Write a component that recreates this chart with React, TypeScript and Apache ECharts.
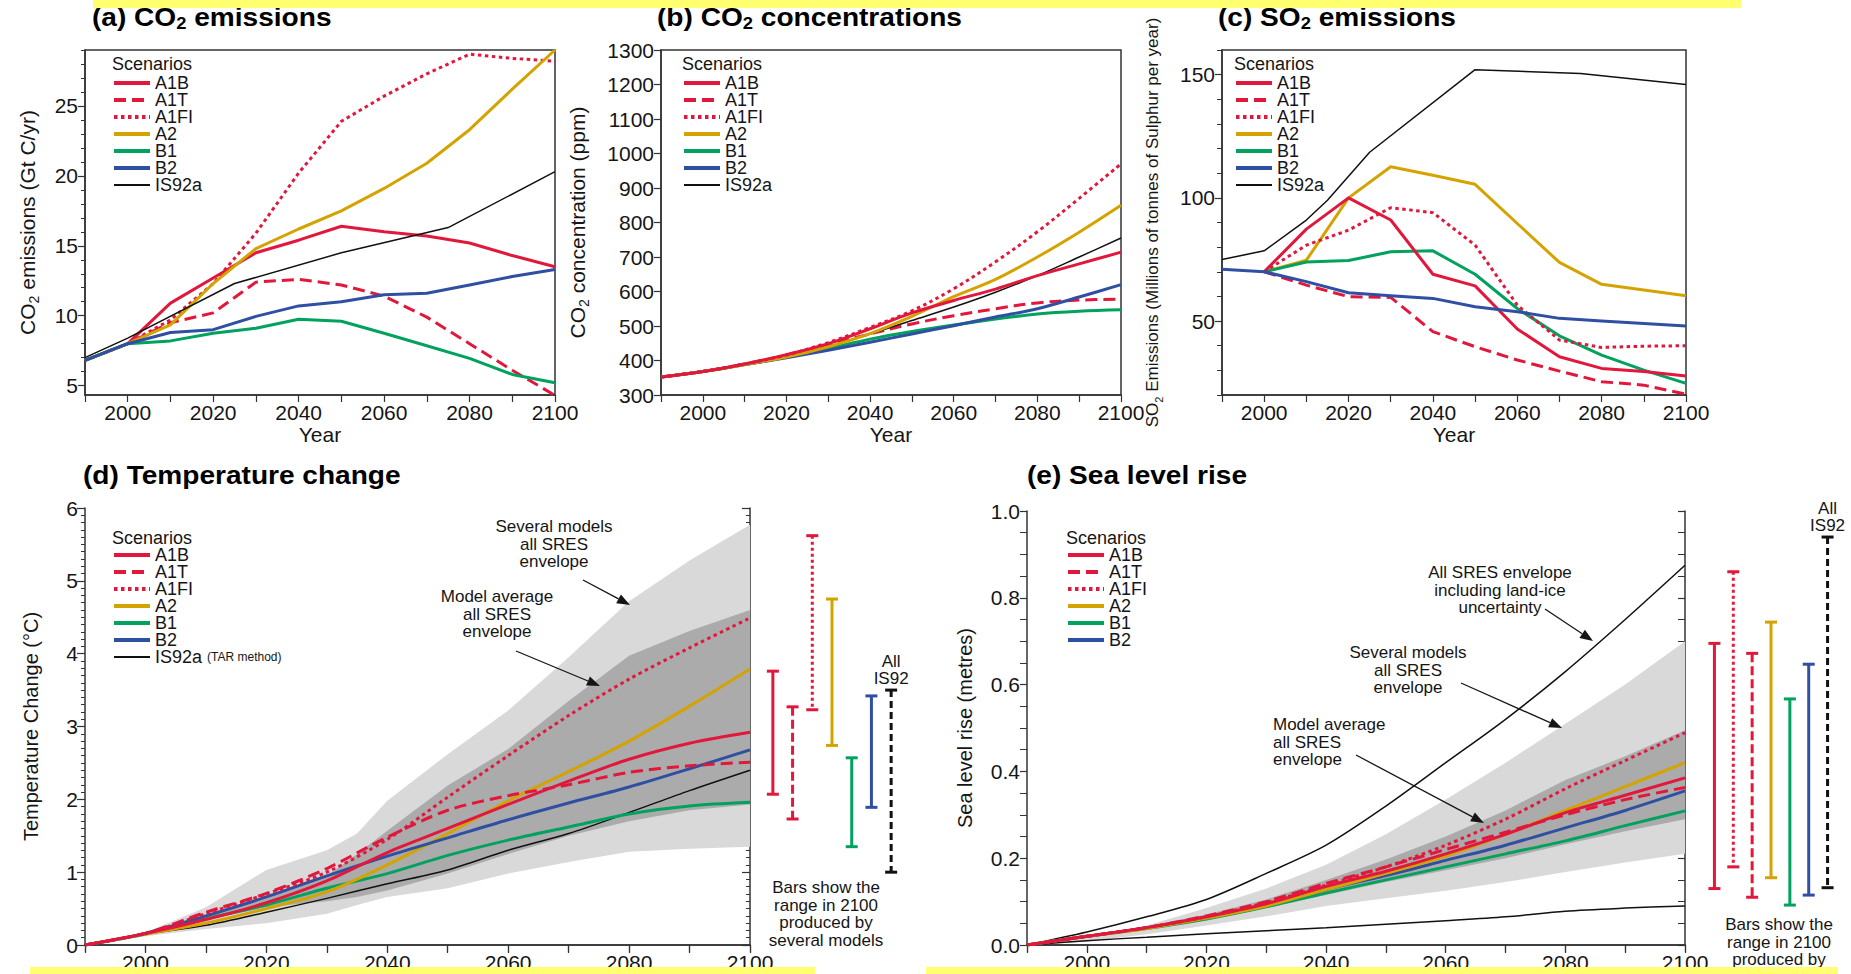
import React, { useEffect, useRef } from 'react';
import * as echarts from 'echarts';

const FONT = '"Liberation Sans", Arial, Helvetica, sans-serif';
const TXT = '#151515';
const AX = '#333333';

const RED = '#E2173C';
const GOLD = '#D4A300';
const GREEN = '#00A25E';
const BLUE = '#2F4FA2';
const BLACK = '#111111';
const LIGHT = '#D9D9D9';
const DARK = '#ABABAB';

// ---------- shared ----------
const YEARS = [1990, 2000, 2010, 2020, 2030, 2040, 2050, 2060, 2070, 2080, 2090, 2100];
const SCENARIOS = ['A1B', 'A1T', 'A1FI', 'A2', 'B1', 'B2', 'IS92a'];
const SCENARIOS_E = ['A1B', 'A1T', 'A1FI', 'A2', 'B1', 'B2'];

// ---------- (a) CO2 emissions (Gt C/yr) ----------
const CO2E_A1B = [6.8, 8.0, 10.9, 12.7, 14.5, 15.4, 16.4, 16.0, 15.7, 15.2, 14.3, 13.5];
const CO2E_A1T = [6.8, 8.0, 9.5, 10.2, 12.4, 12.6, 12.2, 11.4, 9.9, 8.0, 6.1, 4.3];
const CO2E_A1FI = [6.8, 8.0, 9.7, 12.3, 15.9, 20.2, 23.9, 25.7, 27.3, 28.7, 28.4, 28.2];
const CO2E_A2 = [6.8, 8.0, 9.35, 12.3, 14.8, 16.2, 17.5, 19.1, 20.9, 23.3, 26.2, 29.0];
const CO2E_B1 = [6.8, 8.0, 8.2, 8.75, 9.1, 9.75, 9.6, 8.75, 7.85, 6.95, 5.8, 5.2];
const CO2E_B2 = [6.8, 8.0, 8.8, 9.0, 9.95, 10.7, 11.0, 11.5, 11.6, 12.2, 12.8, 13.3];
const IS92A_YEARS_A = [1990, 2000, 2025, 2050, 2075, 2100];
const CO2E_IS92A = [7.0, 8.4, 12.3, 14.5, 16.3, 20.3];
const CO2E_TICKS = [5, 10, 15, 20, 25];
const CO2E_MINOR = [5, 6, 7, 8, 9, 10, 11, 12, 13, 14, 15, 16, 17, 18, 19, 20, 21, 22, 23, 24, 25, 26, 27, 28, 29];

// ---------- (b) CO2 concentrations (ppm) ----------
const CO2C_A1B = [352, 368, 390, 417, 449, 492, 538, 574, 607, 646, 680, 714];
const CO2C_A1T = [352, 368, 390, 415, 446, 477, 506, 530, 550, 567, 575, 578];
const CO2C_A1FI = [352, 368, 390, 416, 452, 496, 544, 608, 686, 773, 870, 970];
const CO2C_A2 = [352, 368, 388, 410, 440, 478, 528, 585, 635, 700, 772, 850];
const CO2C_B1 = [352, 368, 388, 410, 435, 462, 484, 503, 520, 535, 543, 547];
const CO2C_B2 = [352, 368, 388, 408, 430, 453, 477, 501, 526, 550, 584, 620];
const CO2C_IS92A = [352, 368, 388, 410, 440, 477, 516, 555, 598, 646, 700, 755];

// ---------- (c) SO2 emissions (Mt S/yr) ----------
const SO2_A1B = [null, 70, 87.3, 100, 91, 69, 64.3, 46.8, 35.5, 30.8, 29.5, 27.7];
const SO2_A1T = [null, 70, 64.6, 59.9, 59.6, 45.7, 39.6, 34.2, 29.7, 25.4, 24, 20.3];
const SO2_A1FI = [null, 70, 80.8, 86.9, 96, 94, 80.8, 56.5, 42.3, 39.3, 39.8, 40];
const SO2_A2 = [null, 70, 74.7, 100, 112.6, 109.2, 105.5, 89.6, 73.8, 64.9, 62.6, 60.3];
const SO2_B1 = [null, 70, 74, 74.6, 78.1, 78.5, 69, 55.1, 44, 36.2, 30.1, 24.7];
const SO2_B2 = [71, 70, 66, 61.5, 60.3, 59.2, 55.8, 53.8, 51.1, 50, 49, 48];
const IS92A_YEARS_C = [1990, 2000, 2010, 2015, 2025, 2050, 2075, 2100];
const SO2_IS92A = [75, 78.5, 91, 99, 118.5, 152, 150.5, 146];
const SO2_TICKS = [50, 100, 150];

// ---------- (d) Temperature change (°C) ----------
const T_A1B = [0, 0.16, 0.35, 0.58, 0.88, 1.27, 1.6, 1.93, 2.25, 2.55, 2.77, 2.92];
const T_A1T = [0, 0.16, 0.45, 0.71, 1.05, 1.48, 1.85, 2.05, 2.2, 2.37, 2.46, 2.51];
const T_A1FI = [0, 0.16, 0.43, 0.7, 1.0, 1.45, 2.03, 2.6, 3.15, 3.65, 4.08, 4.49];
const T_A2 = [0, 0.15, 0.3, 0.5, 0.73, 1.1, 1.53, 1.98, 2.38, 2.8, 3.28, 3.79];
const T_B1 = [0, 0.15, 0.36, 0.55, 0.78, 0.98, 1.23, 1.44, 1.62, 1.8, 1.91, 1.96];
const T_B2 = [0, 0.16, 0.4, 0.66, 0.95, 1.22, 1.47, 1.72, 1.95, 2.17, 2.42, 2.68];
const T_IS92A = [0, 0.15, 0.27, 0.45, 0.64, 0.84, 1.03, 1.3, 1.53, 1.82, 2.12, 2.4];
const ENV_YEARS_D = [1990, 2000, 2010, 2020, 2030, 2035, 2040, 2050, 2060, 2070, 2080, 2090, 2100];
const T_LIGHT_HI = [0, 0.17, 0.52, 1.03, 1.3, 1.53, 1.98, 2.62, 3.22, 3.95, 4.72, 5.28, 5.77];
const T_LIGHT_LO = [0, 0.12, 0.22, 0.3, 0.43, 0.55, 0.66, 0.78, 0.98, 1.14, 1.28, 1.32, 1.35];
const T_DARK_HI = [0, 0.16, 0.4, 0.66, 0.95, 1.25, 1.57, 2.19, 2.69, 3.35, 3.97, 4.31, 4.6];
const T_DARK_LO = [0, 0.15, 0.34, 0.52, 0.6, 0.66, 0.75, 0.98, 1.25, 1.5, 1.7, 1.85, 1.93];
const BAR_NAMES_D = ['A1B', 'A1T', 'A1FI', 'A2', 'B1', 'B2', 'IS92'];
const BAR_LOW_D = [2.07, 1.73, 3.23, 2.74, 1.35, 1.89, 1.0];
const BAR_HIGH_D = [3.76, 3.27, 5.62, 4.75, 2.57, 3.42, 3.5];

// ---------- (e) Sea level rise (metres) ----------
const SL_A1B = [0, 0.02, 0.04, 0.065, 0.095, 0.135, 0.17, 0.21, 0.255, 0.305, 0.345, 0.385];
const SL_A1T = [0, 0.02, 0.04, 0.067, 0.1, 0.142, 0.18, 0.22, 0.26, 0.3, 0.335, 0.363];
const SL_A1FI = [0, 0.02, 0.04, 0.065, 0.098, 0.138, 0.18, 0.23, 0.29, 0.36, 0.425, 0.489];
const SL_A2 = [0, 0.02, 0.038, 0.062, 0.09, 0.128, 0.165, 0.205, 0.255, 0.31, 0.365, 0.42];
const SL_B1 = [0, 0.02, 0.038, 0.06, 0.088, 0.12, 0.15, 0.18, 0.21, 0.24, 0.275, 0.309];
const SL_B2 = [0, 0.02, 0.04, 0.063, 0.092, 0.128, 0.16, 0.195, 0.23, 0.27, 0.31, 0.355];
const SL_ICE_HI = [0, 0.03, 0.065, 0.105, 0.165, 0.23, 0.32, 0.42, 0.52, 0.63, 0.75, 0.875];
const SL_ICE_LO = [0, 0.01, 0.018, 0.026, 0.033, 0.04, 0.048, 0.056, 0.065, 0.078, 0.085, 0.09];
const SL_LIGHT_HI = [0, 0.02, 0.045, 0.085, 0.13, 0.185, 0.255, 0.335, 0.42, 0.51, 0.6, 0.7];
const SL_LIGHT_LO = [0, 0.008, 0.025, 0.045, 0.066, 0.09, 0.108, 0.125, 0.145, 0.168, 0.19, 0.21];
const SL_DARK_HI = [0, 0.022, 0.043, 0.07, 0.105, 0.15, 0.197, 0.25, 0.31, 0.38, 0.435, 0.495];
const SL_DARK_LO = [0, 0.018, 0.036, 0.058, 0.085, 0.115, 0.145, 0.172, 0.2, 0.232, 0.262, 0.29];
const BAR_NAMES_E = ['A1B', 'A1FI', 'A1T', 'A2', 'B1', 'B2', 'IS92'];
const BAR_LOW_E = [0.13, 0.18, 0.11, 0.155, 0.092, 0.115, 0.132];
const BAR_HIGH_E = [0.695, 0.86, 0.672, 0.744, 0.567, 0.647, 0.94];

// ---------- styles ----------
const DASH = [12, 6];
const DOT = [3.5, 3.5];
const STYLE: Record<string, { color: string; width: number; type: any }> = {
  A1B: { color: RED, width: 3, type: 'solid' },
  A1T: { color: RED, width: 3, type: DASH },
  A1FI: { color: RED, width: 3, type: DOT },
  A2: { color: GOLD, width: 3, type: 'solid' },
  B1: { color: GREEN, width: 3, type: 'solid' },
  B2: { color: BLUE, width: 3, type: 'solid' },
  IS92a: { color: BLACK, width: 1.5, type: 'solid' },
};
const BAR_STYLE: Record<string, { color: string; dash: number[] | null }> = {
  A1B: { color: RED, dash: null },
  A1T: { color: RED, dash: [9, 4] },
  A1FI: { color: RED, dash: [3, 3] },
  A2: { color: GOLD, dash: null },
  B1: { color: GREEN, dash: null },
  B2: { color: BLUE, dash: null },
  IS92: { color: BLACK, dash: [7, 4] },
};

const pairs = (xs: number[], ys: (number | null)[]) => xs.map((x, i) => [x, ys[i]]);

function scen(name: string, xs: number[], ys: (number | null)[], xi: number, yi: number, smooth: number | boolean) {
  const st = STYLE[name];
  return {
    type: 'line',
    name,
    xAxisIndex: xi,
    yAxisIndex: yi,
    data: pairs(xs, ys),
    symbol: 'none',
    smooth,
    z: 4,
    silent: true,
    lineStyle: { color: st.color, width: st.width, type: st.type, cap: 'butt', join: 'round' },
    itemStyle: { color: st.color },
  };
}

// filled envelope between two boundaries, drawn through the axes' scales
function band(xs: number[], lo: number[], hi: number[], xi: number, yi: number, color: string, z: number) {
  return {
    type: 'custom',
    xAxisIndex: xi,
    yAxisIndex: yi,
    silent: true,
    z,
    data: [[xs[0], lo[0], hi[0]]],
    renderItem: (_params: any, api: any) => {
      const pts: number[][] = [];
      for (let i = 0; i < xs.length; i++) pts.push(api.coord([xs[i], hi[i]]));
      for (let i = xs.length - 1; i >= 0; i--) pts.push(api.coord([xs[i], lo[i]]));
      return { type: 'polygon', shape: { points: pts }, style: { fill: color, stroke: null } };
    },
  };
}

function bars(xi: number, yi: number, names: string[], lows: number[], highs: number[]) {
  return {
    type: 'custom',
    xAxisIndex: xi,
    yAxisIndex: yi,
    silent: true,
    z: 4,
    data: lows.map((lo, i) => [i, lo, highs[i]]),
    renderItem: (params: any, api: any) => {
      const i = params.dataIndex;
      const top = api.coord([api.value(0), api.value(2)]);
      const bot = api.coord([api.value(0), api.value(1)]);
      const x = top[0];
      const st = BAR_STYLE[names[i]];
      const children: any[] = [
        { type: 'line', shape: { x1: x, y1: top[1], x2: x, y2: bot[1] }, style: { stroke: st.color, lineWidth: 3, lineDash: st.dash } },
        { type: 'line', shape: { x1: x - 6, y1: top[1], x2: x + 6, y2: top[1] }, style: { stroke: st.color, lineWidth: 3 } },
        { type: 'line', shape: { x1: x - 6, y1: bot[1], x2: x + 6, y2: bot[1] }, style: { stroke: st.color, lineWidth: 3 } },
      ];
      if (names[i] === 'IS92') {
        children.push({
          type: 'text',
          style: { text: 'All\nIS92', x, y: top[1] - 3, align: 'center', verticalAlign: 'bottom', fill: TXT, fontSize: 17, fontFamily: FONT, lineHeight: 17 },
        });
      }
      return { type: 'group', children };
    },
  };
}

const yearLabel = (v: number) => (v % 20 === 0 ? String(v) : '');
const LABEL = { fontSize: 21, fontFamily: FONT, color: TXT, margin: 7 };
const LINE = { lineStyle: { color: AX, width: 1.5 } };
const TICK = { length: 7, lineStyle: { color: AX, width: 1.2 } };

function xAxisFor(gridIndex: number, withName: boolean) {
  return {
    type: 'value', gridIndex, min: 1990, max: 2100, interval: 10,
    splitLine: { show: false }, axisLine: LINE, axisTick: TICK,
    axisLabel: { ...LABEL, formatter: yearLabel },
    name: withName ? 'Year' : '', nameLocation: 'middle', nameGap: 28,
    nameTextStyle: { fontSize: 21, fontFamily: FONT, color: TXT },
  };
}
function xTopFor(gridIndex: number) {
  return {
    type: 'value', gridIndex, position: 'top', min: 1990, max: 2100, interval: 10,
    splitLine: { show: false }, axisLine: LINE, axisTick: { ...TICK, inside: true, length: 8 },
    axisLabel: { show: false },
  };
}
function subName(size: number) {
  return {
    fontSize: size, fontFamily: FONT, color: TXT, lineHeight: size + 6,
    rich: { s: { fontSize: Math.round(size * 0.65), fontFamily: FONT, color: TXT, verticalAlign: 'bottom', lineHeight: Math.round(size * 0.65) } },
  };
}

function legendFor(left: number, top: number, names: string[], tar: boolean) {
  return {
    show: true, orient: 'vertical', left, top, padding: 0, itemGap: -1,
    itemWidth: 36, itemHeight: 12, selectedMode: false,
    data: names.map((n) => ({ name: n, lineStyle: { width: n === 'IS92a' ? 2 : 4 } })),
    itemStyle: { opacity: 0 },
    textStyle: {
      fontFamily: FONT, fontSize: 18, color: TXT, lineHeight: 17,
      rich: { t: { fontFamily: FONT, fontSize: 12, color: TXT } },
    },
    formatter: tar ? (n: string) => (n === 'IS92a' ? 'IS92a {t|(TAR method)}' : n) : (n: string) => n,
  };
}

function arrow(x1: number, y1: number, x2: number, y2: number) {
  const a = Math.atan2(y2 - y1, x2 - x1);
  const L = 13;
  const W = 5;
  const bx = x2 - L * Math.cos(a);
  const by = y2 - L * Math.sin(a);
  const px = -Math.sin(a) * W;
  const py = Math.cos(a) * W;
  return {
    type: 'group',
    z: 50,
    children: [
      { type: 'line', z: 50, shape: { x1, y1, x2: bx, y2: by }, style: { stroke: TXT, lineWidth: 1.3 } },
      { type: 'polygon', z: 50, shape: { points: [[x2, y2], [bx + px, by + py], [bx - px, by - py]] }, style: { fill: TXT } },
    ],
  };
}
function note(x: number, y: number, text: string, align: string = 'center') {
  return {
    type: 'text', x, y, z: 50,
    style: { text, fill: TXT, fontSize: 17, fontFamily: FONT, align, verticalAlign: 'top', lineHeight: 17.5 },
  };
}
function title(x: number, y: number, text: string) {
  return {
    type: 'text', x, y, scaleX: 1.08, z: 50,
    style: {
      text, fill: '#000', verticalAlign: 'middle', align: 'left',
      rich: {
        b: { fontSize: 26, fontWeight: 'bold', fontFamily: FONT, fill: '#000', lineHeight: 30 },
        s: { fontSize: 17, fontWeight: 'bold', fontFamily: FONT, fill: '#000', verticalAlign: 'bottom', lineHeight: 17 },
      },
    },
  };
}

function buildOption() {
  const grid = [
    { left: 85, top: 50, width: 470, height: 345, show: true, borderColor: AX, borderWidth: 1.5 },
    { left: 661, top: 50, width: 460, height: 345, show: true, borderColor: AX, borderWidth: 1.5 },
    { left: 1222, top: 50, width: 464, height: 345, show: true, borderColor: AX, borderWidth: 1.5 },
    { left: 85, top: 508, width: 665, height: 437 },
    { left: 763, top: 508, width: 138, height: 437 },
    { left: 1027, top: 511, width: 658, height: 434 },
    { left: 1705, top: 511, width: 132, height: 434 },
  ];

  const xAxis = [
    xAxisFor(0, true),
    xAxisFor(1, true),
    xAxisFor(2, true),
    xAxisFor(3, false),
    xTopFor(3),
    { type: 'category', gridIndex: 4, data: BAR_NAMES_D, show: false },
    xAxisFor(5, false),
    xTopFor(5),
    { type: 'category', gridIndex: 6, data: BAR_NAMES_E, show: false },
  ];

  const yAxis = [
    {
      type: 'value', gridIndex: 0, position: 'left', min: 4.33, max: 29,
      splitLine: { show: false }, axisLine: LINE,
      axisTick: { ...TICK, customValues: CO2E_TICKS },
      axisLabel: { ...LABEL, customValues: CO2E_TICKS },
      name: 'CO{s|2} emissions (Gt C/yr)', nameLocation: 'middle', nameRotate: 90, nameGap: 44,
      nameTextStyle: subName(21),
    },
    {
      type: 'value', gridIndex: 0, position: 'left', min: 4.33, max: 29,
      splitLine: { show: false }, axisLine: { show: false },
      axisTick: { length: 4, lineStyle: { color: AX, width: 1 }, customValues: CO2E_MINOR },
      axisLabel: { show: false, customValues: CO2E_MINOR },
    },
    {
      type: 'value', gridIndex: 1, position: 'left', min: 300, max: 1300, interval: 100,
      splitLine: { show: false }, axisLine: LINE, axisTick: TICK,
      axisLabel: { ...LABEL, formatter: (v: number) => String(v) },
      name: 'CO{s|2} concentration (ppm)', nameLocation: 'middle', nameRotate: 90, nameGap: 70,
      nameTextStyle: subName(21),
    },
    {
      type: 'value', gridIndex: 2, position: 'left', min: 20, max: 160,
      splitLine: { show: false }, axisLine: LINE,
      axisTick: { ...TICK, customValues: SO2_TICKS },
      axisLabel: { ...LABEL, customValues: SO2_TICKS },
      name: 'SO{s|2} Emissions (Millions of tonnes of Sulphur per year)', nameLocation: 'middle', nameRotate: 90, nameGap: 58,
      nameTextStyle: subName(17),
    },
    {
      type: 'value', gridIndex: 2, position: 'left', min: 20, max: 160, interval: 10,
      splitLine: { show: false }, axisLine: { show: false },
      axisTick: { length: 5, lineStyle: { color: AX, width: 1 } }, axisLabel: { show: false },
    },
    {
      type: 'value', gridIndex: 3, position: 'left', min: 0, max: 6, interval: 1,
      splitLine: { show: false }, axisLine: LINE, axisTick: { ...TICK, length: 8 }, axisLabel: LABEL,
      minorTick: { show: true, splitNumber: 10, length: 4, lineStyle: { color: AX, width: 1 } },
      minorSplitLine: { show: false },
      name: 'Temperature Change (°C)', nameLocation: 'middle', nameRotate: 90, nameGap: 44,
      nameTextStyle: { fontSize: 20, fontFamily: FONT, color: TXT },
    },
    {
      type: 'value', gridIndex: 3, position: 'right', min: 0, max: 6, interval: 1,
      splitLine: { show: false }, axisLine: LINE, axisTick: { ...TICK, inside: true, length: 8 },
      axisLabel: { show: false },
      minorTick: { show: true, splitNumber: 10, length: 4, lineStyle: { color: AX, width: 1 } },
    },
    { type: 'value', gridIndex: 4, min: 0, max: 6, show: false },
    {
      type: 'value', gridIndex: 5, position: 'left', min: 0, max: 1, interval: 0.2,
      splitLine: { show: false }, axisLine: LINE, axisTick: { ...TICK, length: 7 },
      axisLabel: { ...LABEL, formatter: (v: number) => v.toFixed(1) },
      minorTick: { show: true, splitNumber: 4, length: 7, lineStyle: { color: AX, width: 1 } },
      name: 'Sea level rise (metres)', nameLocation: 'middle', nameRotate: 90, nameGap: 52,
      nameTextStyle: { fontSize: 20, fontFamily: FONT, color: TXT },
    },
    {
      type: 'value', gridIndex: 5, position: 'right', min: 0, max: 1, interval: 0.2,
      splitLine: { show: false }, axisLine: LINE, axisTick: { ...TICK, inside: true, length: 7 },
      axisLabel: { show: false },
      minorTick: { show: true, splitNumber: 4, length: 7, lineStyle: { color: AX, width: 1 } },
    },
    { type: 'value', gridIndex: 6, min: 0, max: 1, show: false },
  ];

  const series: any[] = [
    // (a)
    scen('A1B', YEARS, CO2E_A1B, 0, 0, false),
    scen('A1T', YEARS, CO2E_A1T, 0, 0, false),
    scen('A1FI', YEARS, CO2E_A1FI, 0, 0, false),
    scen('A2', YEARS, CO2E_A2, 0, 0, false),
    scen('B1', YEARS, CO2E_B1, 0, 0, false),
    scen('B2', YEARS, CO2E_B2, 0, 0, false),
    scen('IS92a', IS92A_YEARS_A, CO2E_IS92A, 0, 0, false),
    // (b)
    scen('A1T', YEARS, CO2C_A1T, 1, 2, 0.35),
    scen('B1', YEARS, CO2C_B1, 1, 2, 0.35),
    scen('B2', YEARS, CO2C_B2, 1, 2, 0.35),
    scen('IS92a', YEARS, CO2C_IS92A, 1, 2, 0.35),
    scen('A2', YEARS, CO2C_A2, 1, 2, 0.35),
    scen('A1FI', YEARS, CO2C_A1FI, 1, 2, 0.35),
    scen('A1B', YEARS, CO2C_A1B, 1, 2, 0.35),
    // (c)
    scen('IS92a', IS92A_YEARS_C, SO2_IS92A, 2, 3, false),
    scen('A2', YEARS, SO2_A2, 2, 3, false),
    scen('B1', YEARS, SO2_B1, 2, 3, false),
    scen('A1FI', YEARS, SO2_A1FI, 2, 3, false),
    scen('A1T', YEARS, SO2_A1T, 2, 3, false),
    scen('A1B', YEARS, SO2_A1B, 2, 3, false),
    scen('B2', YEARS, SO2_B2, 2, 3, false),
    // (d)
    band(ENV_YEARS_D, T_LIGHT_LO, T_LIGHT_HI, 3, 5, LIGHT, 1),
    band(ENV_YEARS_D, T_DARK_LO, T_DARK_HI, 3, 5, DARK, 2),
    scen('IS92a', YEARS, T_IS92A, 3, 5, 0.3),
    scen('B1', YEARS, T_B1, 3, 5, 0.3),
    scen('A2', YEARS, T_A2, 3, 5, 0.3),
    scen('B2', YEARS, T_B2, 3, 5, 0.3),
    scen('A1B', YEARS, T_A1B, 3, 5, 0.3),
    scen('A1T', YEARS, T_A1T, 3, 5, 0.3),
    scen('A1FI', YEARS, T_A1FI, 3, 5, 0.3),
    bars(5, 7, BAR_NAMES_D, BAR_LOW_D, BAR_HIGH_D),
    // (e)
    band(YEARS, SL_LIGHT_LO, SL_LIGHT_HI, 6, 8, LIGHT, 1),
    band(YEARS, SL_DARK_LO, SL_DARK_HI, 6, 8, DARK, 2),
    {
      type: 'line', xAxisIndex: 6, yAxisIndex: 8, data: pairs(YEARS, SL_ICE_HI), symbol: 'none', smooth: 0.3, silent: true, z: 3,
      lineStyle: { color: BLACK, width: 1.5 },
    },
    {
      type: 'line', xAxisIndex: 6, yAxisIndex: 8, data: pairs(YEARS, SL_ICE_LO), symbol: 'none', smooth: 0.3, silent: true, z: 3,
      lineStyle: { color: BLACK, width: 1.5 },
    },
    scen('B1', YEARS, SL_B1, 6, 8, 0.3),
    scen('B2', YEARS, SL_B2, 6, 8, 0.3),
    scen('A2', YEARS, SL_A2, 6, 8, 0.3),
    scen('A1T', YEARS, SL_A1T, 6, 8, 0.3),
    scen('A1B', YEARS, SL_A1B, 6, 8, 0.3),
    scen('A1FI', YEARS, SL_A1FI, 6, 8, 0.3),
    bars(8, 10, BAR_NAMES_E, BAR_LOW_E, BAR_HIGH_E),
  ];

  const legend = [
    legendFor(112, 74, SCENARIOS, false),
    legendFor(682, 74, SCENARIOS, false),
    legendFor(1234, 74, SCENARIOS, false),
    legendFor(112, 546, SCENARIOS, true),
    legendFor(1066, 546, SCENARIOS_E, false),
  ];

  const scenLabel = (x: number, y: number) => ({
    type: 'text', x, y, z: 50, style: { text: 'Scenarios', fill: TXT, fontSize: 18, fontFamily: FONT, verticalAlign: 'middle' },
  });

  const graphic = [
    title(92, 17, '{b|(a) CO}{s|2}{b| emissions}'),
    title(657, 17, '{b|(b) CO}{s|2}{b| concentrations}'),
    title(1218, 17, '{b|(c) SO}{s|2}{b| emissions}'),
    title(83, 475, '{b|(d) Temperature change}'),
    title(1027, 475, '{b|(e) Sea level rise}'),
    scenLabel(112, 64),
    scenLabel(682, 64),
    scenLabel(1234, 64),
    scenLabel(112, 538),
    scenLabel(1066, 538),
    note(554, 518, 'Several models\nall SRES\nenvelope'),
    arrow(583, 580, 630, 605),
    note(497, 588, 'Model average\nall SRES\nenvelope'),
    arrow(516, 651, 600, 686),
    note(826, 879, 'Bars show the\nrange in 2100\nproduced by\nseveral models'),
    note(1500, 564, 'All SRES envelope\nincluding land-ice\nuncertainty'),
    arrow(1545, 609, 1593, 641),
    note(1408, 644, 'Several models\nall SRES\nenvelope'),
    arrow(1461, 683, 1562, 728),
    note(1273, 716, 'Model average\nall SRES\nenvelope', 'left'),
    arrow(1356, 755, 1484, 823),
    note(1779, 916, 'Bars show the\nrange in 2100\nproduced by\nseveral models'),
    { type: 'rect', z: 100, shape: { x: 93, y: 0, width: 1648, height: 8 }, style: { fill: '#FFFF70' } },
    { type: 'rect', z: 100, shape: { x: 30, y: 967, width: 785, height: 7 }, style: { fill: '#FFFF70' } },
    { type: 'rect', z: 100, shape: { x: 926, y: 967, width: 912, height: 7 }, style: { fill: '#FFFF70' } },
  ];

  return {
    animation: false,
    backgroundColor: '#ffffff',
    textStyle: { fontFamily: FONT },
    grid,
    xAxis,
    yAxis,
    legend,
    series,
    graphic,
  };
}

export default function App() {
  const ref = useRef<HTMLDivElement>(null);
  useEffect(() => {
    if (!ref.current) return;
    const chart = echarts.init(ref.current, null, { renderer: 'svg' });
    chart.setOption(buildOption() as any);
    return () => chart.dispose();
  }, []);
  return (
    <div
      ref={ref}
      style={{ position: 'fixed', left: 0, top: 0, width: 1851, height: 974, background: '#fff' }}
    />
  );
}
